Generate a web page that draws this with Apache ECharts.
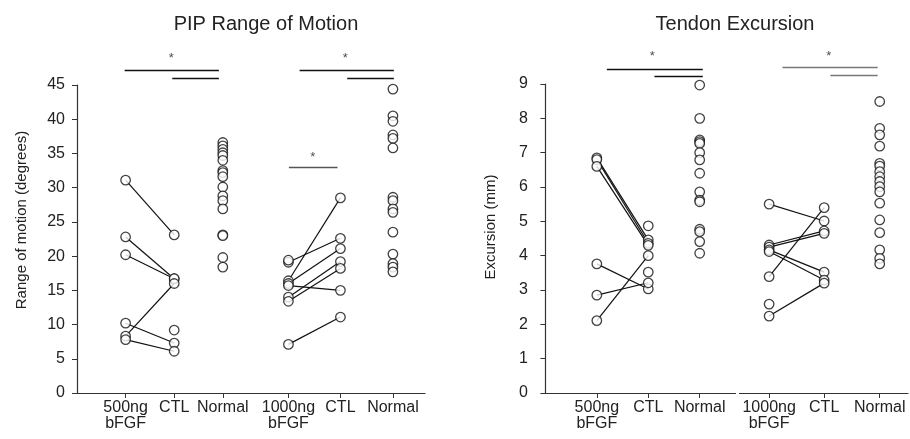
<!DOCTYPE html>
<html>
<head>
<meta charset="utf-8">
<script src="https://cdn.jsdelivr.net/npm/echarts@6/dist/echarts.min.js"></script>
<style>
  html, body { margin: 0; padding: 0; background: #fff; }
  #chart { width: 910px; height: 439px; }
</style>
</head>
<body>
<div id="chart"></div>
<script>
// category positions on the x value axis and their labels
var catPos = [1, 2, 3, 4.35, 5.42, 6.5];
var catLabels = ['500ng\nbFGF', 'CTL', 'Normal', '1000ng\nbFGF', 'CTL', 'Normal'];

// PIP range of motion (degrees)
var rom500 = [31.1, 22.8, 20.2, 10.2, 8.3, 7.8];
var rom500Ctl = [23.1, 16.7, 16.7, 7.3, 16.0, 6.1];
var rom500CtlOnly = [9.2];
var romNormal1 = [36.6, 36.1, 35.6, 35.1, 34.7, 34.0, 32.5, 32.2, 31.6, 30.1, 28.8, 28.1, 26.9, 23.1, 23.0, 19.8, 18.4];
var rom1000 = [19.1, 16.4, 16.0, 15.7, 14.0, 13.4, 7.1];
var rom1000Ctl = [22.6, 28.5, 21.1, 15.0, 19.2, 18.2, 11.1];
var rom1000Only = [19.4];
var romNormal2 = [44.4, 40.5, 39.7, 37.7, 37.2, 35.8, 28.6, 28.1, 26.9, 26.4, 23.5, 20.3, 18.9, 18.4, 17.7];
var romBars = [[0.98, 2.92, 47.2], [1.96, 2.92, 46.0], [4.58, 6.52, 47.2], [5.56, 6.52, 46.0], [4.36, 5.36, 33.0]];
var romStars = [[1.94, 48.9], [5.52, 48.9], [4.85, 34.4]];

// tendon excursion (mm)
var exc500 = [6.85, 6.8, 6.6, 3.76, 2.85, 2.11];
var exc500Ctl = [4.46, 4.36, 4.3, 3.03, 3.21, 4.0];
var exc500CtlOnly = [4.87, 3.52];
var excNormal1 = [8.97, 8.0, 7.37, 7.32, 7.27, 7.0, 6.79, 6.4, 5.86, 5.62, 5.57, 4.77, 4.70, 4.41, 4.07];
var exc1000 = [5.5, 4.31, 4.25, 4.17, 4.12, 3.39, 2.24];
var exc1000Ctl = [5.01, 4.72, 4.65, 3.52, 3.29, 5.4, 3.2];
var exc1000Only = [2.59];
var excNormal2 = [8.49, 7.71, 7.52, 7.19, 6.69, 6.61, 6.45, 6.30, 6.16, 6.01, 5.86, 5.53, 5.04, 4.67, 4.17, 3.92, 3.76];
var excBars = [[1.195, 3.06, 9.44], [2.12, 3.06, 9.23], [4.61, 6.46, 9.48], [5.54, 6.46, 9.26]];
var excStars = [[2.08, 9.79], [5.51, 9.79]];

var romBarColors = ['#111', '#111', '#111', '#111', '#555'];
var excBarColors = ['#111', '#111', '#777', '#777'];

var FONT = 'Liberation Sans, Arial, sans-serif';
var chart = echarts.init(document.getElementById('chart'));

function pairs(a, b, xa, xb) {
  return a.map(function (v, i) {
    return { coords: [[xa, v], [xb, b[i]]] };
  });
}
function col(vals, x) {
  return vals.map(function (v) { return [x, v]; });
}

function panelSeries(idx, sets) {
  var out = [];
  out.push({
    type: 'lines', coordinateSystem: 'cartesian2d',
    xAxisIndex: idx, yAxisIndex: idx, silent: true, z: 2,
    lineStyle: { color: '#111', width: 1.2, opacity: 1 },
    data: pairs(sets.t1, sets.c1, catPos[0], catPos[1])
      .concat(pairs(sets.t2, sets.c2, catPos[3], catPos[4]))
  });
  var pts = col(sets.t1, catPos[0]).concat(col(sets.c1, catPos[1]), col(sets.c1x, catPos[1]),
    col(sets.n1, catPos[2]), col(sets.t2, catPos[3]), col(sets.t2x, catPos[3]),
    col(sets.c2, catPos[4]), col(sets.n2, catPos[5]));
  out.push({
    type: 'scatter', xAxisIndex: idx, yAxisIndex: idx, silent: true, z: 3,
    symbol: 'circle', symbolSize: 9.5,
    itemStyle: { color: '#fff', borderColor: '#111', borderWidth: 1.3 },
    data: pts
  });
  out.push({
    type: 'lines', coordinateSystem: 'cartesian2d', clip: false,
    xAxisIndex: idx, yAxisIndex: idx, silent: true, z: 2,
    data: sets.bars.map(function (b, i) {
      return { coords: [[b[0], b[2]], [b[1], b[2]]],
        lineStyle: { color: sets.barColors[i], width: 1.4, opacity: 1 } };
    })
  });
  out.push({
    type: 'scatter', xAxisIndex: idx, yAxisIndex: idx, silent: true, clip: false,
    symbolSize: 1, itemStyle: { color: 'rgba(0,0,0,0)' },
    label: { show: true, position: 'inside', formatter: '*', color: '#222', fontSize: 13, fontFamily: FONT },
    data: sets.stars
  });
  return out;
}

function xAxis(idx, min, max) {
  return {
    type: 'value', gridIndex: idx, min: min, max: max,
    splitLine: { show: false },
    axisLine: { lineStyle: { color: '#333', width: 1.2 } },
    axisTick: { customValues: catPos, length: 5, lineStyle: { color: '#333' } },
    axisLabel: {
      customValues: catPos, margin: 7, color: '#222', fontSize: 16, lineHeight: 16, fontFamily: FONT,
      formatter: function (v) {
        for (var i = 0; i < catPos.length; i++) {
          if (Math.abs(catPos[i] - v) < 1e-6) return catLabels[i];
        }
        return '';
      }
    }
  };
}

function yAxis(idx, max, interval, name, gap, shift, labelGap) {
  return {
    type: 'value', gridIndex: idx, min: 0, max: max, interval: interval,
    name: name, nameLocation: 'middle', nameGap: gap,
    nameTextStyle: { color: '#222', fontSize: 15, fontFamily: FONT, padding: [0, 0, 0, shift] },
    splitLine: { show: false },
    axisLine: { show: true, lineStyle: { color: '#333', width: 1.2 } },
    axisTick: { show: true, length: 5, lineStyle: { color: '#333' } },
    axisLabel: { color: '#222', fontSize: 16, margin: labelGap, fontFamily: FONT }
  };
}

var option = {
  backgroundColor: '#fff',
  animation: false,
  title: [
    { text: 'PIP Range of Motion', left: 261, top: 9, textAlign: 'center',
      textStyle: { color: '#222', fontSize: 20, fontWeight: 'normal', fontFamily: FONT } },
    { text: 'Tendon Excursion', left: 730, top: 9, textAlign: 'center',
      textStyle: { color: '#222', fontSize: 20, fontWeight: 'normal', fontFamily: FONT } }
  ],
  grid: [
    { left: 77, right: 485, top: 85, bottom: 46 },
    { left: 542, right: 2, top: 84, bottom: 46 }
  ],
  xAxis: [xAxis(0, 0, 7.16), xAxis(1, -0.066, 7.05)],
  yAxis: [
    yAxis(0, 45, 5, 'Range of motion (degrees)', 48, 38, 12),
    yAxis(1, 9, 1, 'Excursion (mm)', 44, 23, 14)
  ],
  series: panelSeries(0, {
    t1: rom500, c1: rom500Ctl, c1x: rom500CtlOnly, n1: romNormal1,
    t2: rom1000, t2x: rom1000Only, c2: rom1000Ctl, n2: romNormal2,
    bars: romBars, barColors: romBarColors, stars: romStars
  }).concat(panelSeries(1, {
    t1: exc500, c1: exc500Ctl, c1x: exc500CtlOnly, n1: excNormal1,
    t2: exc1000, t2x: exc1000Only, c2: exc1000Ctl, n2: excNormal2,
    bars: excBars, barColors: excBarColors, stars: excStars
  })),
  graphic: [
    { type: 'rect', shape: { x: 736, y: 391, width: 3, height: 4 }, style: { fill: '#fff' }, z: 100 }
  ]
};
chart.setOption(option);
</script>
</body>
</html>
